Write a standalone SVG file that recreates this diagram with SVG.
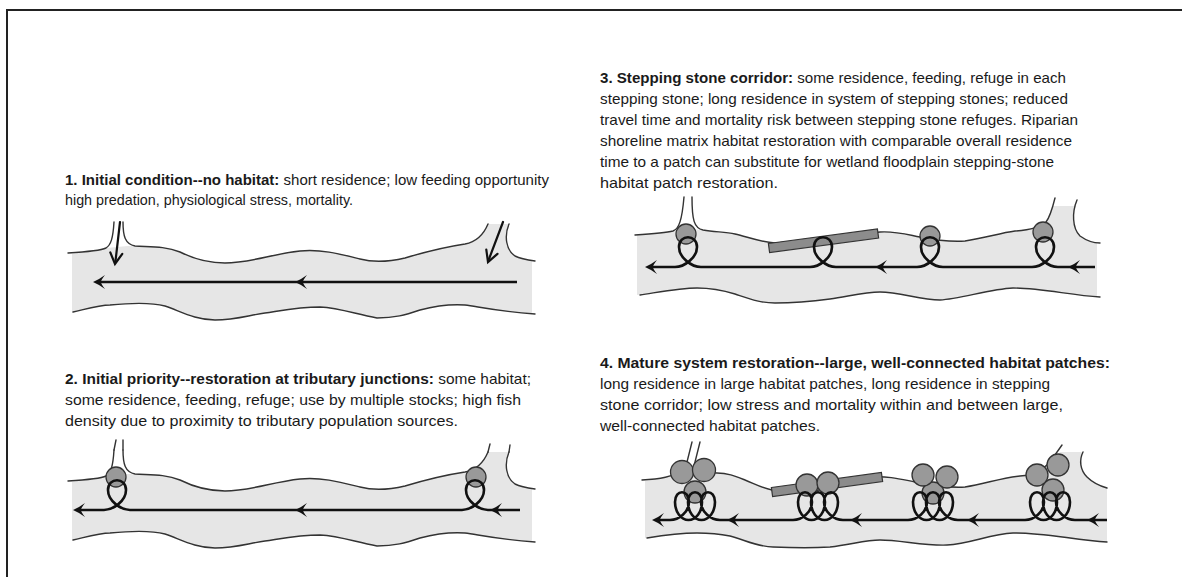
<svg xmlns="http://www.w3.org/2000/svg" xmlns:xlink="http://www.w3.org/1999/xlink" width="1182" height="577" viewBox="0 0 1182 577">
<style>
.frame{fill:none;stroke:#222;stroke-width:2}
.water{fill:#e6e6e6;stroke:none}
.bank{fill:none;stroke:#333;stroke-width:1.4;stroke-linecap:round}
.flow{fill:none;stroke:#111;stroke-width:2.6;stroke-linejoin:round}
.trib{fill:none;stroke:#111;stroke-width:2.2;stroke-linecap:round}
.patch{fill:#999;stroke:#333;stroke-width:1.3}
.bar{fill:#8c8c8c;stroke:#333;stroke-width:1.2}
.ah{fill:#111}
.t{font-family:"Liberation Sans",Arial,sans-serif;font-size:15px;fill:#1a1a1a}
.b{font-weight:bold}
</style>
<defs>
<path id="ah" class="ah" d="M0,0 Q6,-2.5 12,-7 Q8,-2 8,0 Q8,2 12,7 Q6,2.5 0,0Z"/>
<g id="river1">
<path class="water" d="M72,254 C85,252 100,251 106,248 L128,246 C150,247 165,246 180,252 C192,258 205,263 225,263 C250,263 272,254 300,251 C322,249 340,254 360,259 C375,263 388,262 405,258 C425,252 445,247 465,244 C476,242 483,236 488,224 L509,224 C504,236 506,250 515,256 C521,259 526,260 532,260 L532,314 C495,311 480,307 465,305 C450,304 435,306 420,310 C405,315 395,318 377,318 C355,314 340,308 320,307 C300,307 285,310 265,313 C250,315 235,320 215,320 C195,320 180,311 165,306 C150,302 130,303 110,305 C100,305 90,308 72,312 Z"/>
<path class="bank" d="M68,253 C85,252 100,251 106,248 C111,245 113,238 114,222"/>
<path class="bank" d="M123,222 C123,236 125,244 135,246 C150,247 165,246 180,252 C192,258 205,263 225,263 C250,263 272,254 300,251 C322,249 340,254 360,259 C375,263 388,262 405,258 C425,252 445,247 465,244 C476,242 483,236 488,224"/>
<path class="bank" d="M509,224 C504,236 506,250 515,256 C521,259 528,260 535,261"/>
<path class="bank" d="M73,312 C90,308 100,305 110,305 C130,303 150,302 165,306 C180,311 195,320 215,320 C235,320 250,315 265,313 C285,310 300,307 320,307 C340,308 355,314 377,318 C395,318 405,315 420,310 C435,306 450,304 465,305 C480,307 495,311 535,314"/>
</g>
</defs>

<path class="frame" d="M7,577 L7,10 L1182,10"/>

<g id="panel1">
<text class="t" x="65" y="185" textLength="484" lengthAdjust="spacingAndGlyphs"><tspan class="b">1. Initial condition--no habitat:</tspan> short residence; low feeding opportunity</text>
<text class="t" x="65" y="205" textLength="288" lengthAdjust="spacingAndGlyphs">high predation, physiological stress, mortality.</text>
<use xlink:href="#river1"/>
<g id="p1-connectors">
<path class="flow" d="M517,282 L97,282"/>
<use xlink:href="#ah" x="93" y="282"/>
<use xlink:href="#ah" x="295" y="282"/>
<path class="trib" d="M120,222 L115.5,261"/>
<path class="trib" d="M122.3,253.8 L115,264 L110.3,252.4"/>
<path class="trib" d="M503,222 L489,259"/>
<path class="trib" d="M486.3,249.6 L488,262 L497.5,253.8"/>
</g>
</g>

<g id="panel2">
<text class="t" x="65" y="384" textLength="466" lengthAdjust="spacingAndGlyphs"><tspan class="b">2. Initial priority--restoration at tributary junctions:</tspan> some habitat;</text>
<text class="t" x="65" y="405" textLength="456" lengthAdjust="spacingAndGlyphs">some residence, feeding, refuge; use by multiple stocks; high fish</text>
<text class="t" x="65" y="426" textLength="393" lengthAdjust="spacingAndGlyphs">density due to proximity to tributary population sources.</text>
<use xlink:href="#river1" transform="translate(0,228)"/>
<path class="bank" d="M114,450 L116,440 M123,450 L123,440 M488,452 L490,444 M509,452 L510,445"/>
<circle id="p2-patch1" class="patch" cx="116" cy="477" r="10"/>
<circle id="p2-patch2" class="patch" cx="476" cy="477" r="10"/>
<g id="p2-connectors">
<path class="flow" d="M520,510 L488,510 C479,510 466,501 466,490 C466,477 484,477 484,490 C484,501 471,510 462,510 L130,510 C121,510 108,501 108,490 C108,477 126,477 126,490 C126,501 113,510 104,510 L77,510"/>
<use xlink:href="#ah" x="73" y="510"/>
<use xlink:href="#ah" x="295" y="510"/>
<use xlink:href="#ah" x="490" y="510"/>
</g>
</g>

<g id="panel3">
<text class="t" x="600" y="83" textLength="466" lengthAdjust="spacingAndGlyphs"><tspan class="b">3. Stepping stone corridor:</tspan> some residence, feeding, refuge in each</text>
<text class="t" x="600" y="104" textLength="468" lengthAdjust="spacingAndGlyphs">stepping stone; long residence in system of stepping stones; reduced</text>
<text class="t" x="600" y="125" textLength="478" lengthAdjust="spacingAndGlyphs">travel time and mortality risk between stepping stone refuges. Riparian</text>
<text class="t" x="600" y="146" textLength="472" lengthAdjust="spacingAndGlyphs">shoreline matrix habitat restoration with comparable overall residence</text>
<text class="t" x="600" y="167" textLength="454" lengthAdjust="spacingAndGlyphs">time to a patch can substitute for wetland floodplain stepping-stone</text>
<text class="t" x="600" y="188" textLength="178" lengthAdjust="spacingAndGlyphs">habitat patch restoration.</text>
<path class="water" d="M637,235 C650,234 665,233 673,231 L694,229 C705,231 715,232 735,234 C748,237 760,242 775,243 C800,242 850,236 880,232 C895,231 905,234 920,237 C935,240 950,242 965,241 C985,238 1000,233 1015,231 C1030,230 1040,228 1046,222 L1053,206 L1076,206 C1072,212 1072,228 1080,236 C1087,241 1093,243 1097,243 L1097,297 C1070,295 1040,288 1013,288 C990,289 960,299 940,300 C920,300 900,292 880,292 C865,292 850,296 830,299 C815,301 795,303 775,303 C760,303 750,299 735,294 C722,290 712,288 697,288 C680,288 660,292 637,295 Z"/>
<path class="bank" d="M635,235 C650,234 665,233 673,231 C679,229 682,220 684,197"/>
<path class="bank" d="M692,197 C692,220 694,228 703,230 C715,232 725,232 735,234 C748,237 760,242 775,243 C800,242 850,236 880,232 C895,231 905,234 920,237 C935,240 950,242 965,241 C985,238 1000,233 1015,231 C1030,230 1040,228 1046,222 C1050,217 1052,210 1055,198"/>
<path class="bank" d="M1077,200 C1072,212 1072,228 1080,236 C1087,241 1093,243 1100,243"/>
<path class="bank" d="M640,295 C660,292 680,288 697,288 C712,288 722,290 735,294 C750,299 760,303 775,303 C795,303 815,301 830,299 C850,296 865,292 880,292 C900,292 920,300 940,300 C960,299 990,289 1013,288 C1040,288 1070,295 1100,297"/>
<polygon id="p3-matrix" class="bar" points="768.4,243.5 877.4,229 878.6,238 769.6,252.5"/>
<circle id="p3-patch1" class="patch" cx="686" cy="234" r="10"/>
<circle id="p3-patch3" class="patch" cx="930" cy="236" r="10"/>
<circle id="p3-patch4" class="patch" cx="1043" cy="232" r="10"/>
<g id="p3-connectors">
<path class="flow" d="M1095,267 L1058,267 C1049,267 1036,258 1036,247 C1036,234 1054,234 1054,247 C1054,258 1041,267 1032,267 L943,267 C934,267 921,258 921,247 C921,234 939,234 939,247 C939,258 926,267 917,267 L836,267 C827,267 814,258 814,247 C814,234 832,234 832,247 C832,258 819,267 810,267 L701,267 C692,267 679,258 679,247 C679,234 697,234 697,247 C697,258 684,267 675,267 L649,267"/>
<use xlink:href="#ah" x="645" y="267"/>
<use xlink:href="#ah" x="875" y="267"/>
<use xlink:href="#ah" x="1068" y="267"/>
</g>
</g>

<g id="panel4">
<text class="t b" x="600" y="368" textLength="510" lengthAdjust="spacingAndGlyphs">4. Mature system restoration--large, well-connected habitat patches:</text>
<text class="t" x="600" y="389" textLength="450" lengthAdjust="spacingAndGlyphs">long residence in large habitat patches, long residence in stepping</text>
<text class="t" x="600" y="410" textLength="463" lengthAdjust="spacingAndGlyphs">stone corridor; low stress and mortality within and between large,</text>
<text class="t" x="600" y="431" textLength="220" lengthAdjust="spacingAndGlyphs">well-connected habitat patches.</text>
<path class="water" d="M645,481 C660,479 672,477 685,470 L700,466 C705,472 708,473 717,473 C728,473 735,476 745,480 C755,484 762,488 772,490 C800,488 840,480 870,477 C890,476 900,479 915,482 C935,486 950,488 965,487 C985,484 1000,478 1020,476 C1035,475 1042,470 1050,462 L1060,452 L1082,452 C1079,460 1080,470 1087,477 C1093,483 1100,486 1107,488 L1107,542 C1075,540 1040,532 1013,533 C990,534 970,544 947,545 C925,546 900,540 880,540 C865,540 850,545 830,547 C815,548 795,548 773,547 C758,547 745,540 730,536 C720,534 712,533 697,533 C682,533 665,535 645,538 Z"/>
<path class="bank" d="M642,480 C660,479 672,477 685,470 L692,442"/>
<path class="bank" d="M700,442 L694,466 C700,472 708,473 717,473 C728,473 735,476 745,480 C755,484 762,488 772,490 C800,488 840,480 870,477 C890,476 900,479 915,482 C935,486 950,488 965,487 C985,484 1000,478 1020,476 C1035,475 1042,470 1050,462 L1062,445"/>
<path class="bank" d="M1083,452 C1079,460 1080,470 1087,477 C1093,483 1100,486 1107,488"/>
<path class="bank" d="M647,538 C665,535 682,533 697,533 C712,533 720,534 730,536 C745,540 758,547 773,547 C795,548 815,548 830,547 C850,545 865,540 880,540 C900,540 925,546 947,545 C970,544 990,534 1013,533 C1040,532 1075,540 1107,542"/>
<polygon id="p4-matrix" class="bar" points="771.4,487.5 881.4,472.5 882.6,481.5 772.6,496.5"/>
<g id="p4-patch1">
<circle class="patch" cx="695" cy="492" r="11"/>
<circle class="patch" cx="682" cy="472" r="11.5"/>
<circle class="patch" cx="704" cy="470" r="11.5"/>
</g>
<g id="p4-patch2">
<circle class="patch" cx="807" cy="485" r="11"/>
<circle class="patch" cx="828" cy="483" r="11"/>
</g>
<g id="p4-patch3">
<circle class="patch" cx="933" cy="493" r="11"/>
<circle class="patch" cx="923" cy="475" r="11"/>
<circle class="patch" cx="947" cy="477" r="11"/>
</g>
<g id="p4-patch4">
<circle class="patch" cx="1053" cy="490" r="11"/>
<circle class="patch" cx="1037" cy="475" r="11"/>
<circle class="patch" cx="1058" cy="465" r="11"/>
</g>
<g id="p4-connectors">
<path class="flow" d="M1107,520 L1075,520 C1066,520 1056,512 1056,502 C1056,489 1070,489 1070,502 C1070,512 1064,520 1056.5,520 C1049,520 1043,512 1043,502 C1043,489 1057,489 1057,502 C1057,512 1051,520 1043.5,520 C1036,520 1030,512 1030,502 C1030,489 1044,489 1044,502 C1044,512 1034,520 1025,520 L958,520 C949,520 939,512 939,502 C939,489 953,489 953,502 C953,512 947,520 939.5,520 C932,520 926,512 926,502 C926,489 940,489 940,502 C940,512 934,520 926.5,520 C919,520 913,512 913,502 C913,489 927,489 927,502 C927,512 917,520 908,520 L843,520 C834,520 824,512 824,502 C824,489 838,489 838,502 C838,512 832,520 824.5,520 C817,520 811,512 811,502 C811,489 825,489 825,502 C825,512 819,520 811.5,520 C804,520 798,512 798,502 C798,489 812,489 812,502 C812,512 802,520 793,520 L720,520 C711,520 701,512 701,502 C701,489 715,489 715,502 C715,512 709,520 701.5,520 C694,520 688,512 688,502 C688,489 702,489 702,502 C702,512 696,520 688.5,520 C681,520 675,512 675,502 C675,489 689,489 689,502 C689,512 679,520 670,520 L656,520"/>
<use xlink:href="#ah" x="652" y="520"/>
<use xlink:href="#ah" x="727" y="520"/>
<use xlink:href="#ah" x="850" y="520"/>
<use xlink:href="#ah" x="967" y="520"/>
<use xlink:href="#ah" x="1087" y="520"/>
</g>
</g>
</svg>
